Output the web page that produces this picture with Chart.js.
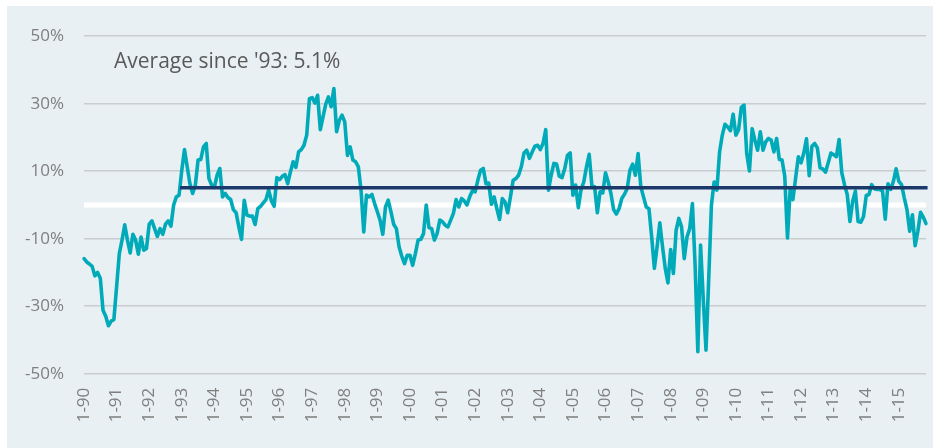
<!DOCTYPE html>
<html>
<head>
<meta charset="utf-8">
<script src="https://cdn.jsdelivr.net/npm/chart.js@4.4.1/dist/chart.umd.min.js"></script>
<style>
  body { margin: 0; background: #ffffff; }
  #panel { position: absolute; left: 7px; top: 6px; width: 926px; height: 442px; background: #e8f0f3; }
</style>
</head>
<body>
<div id="panel"><canvas id="grafico" width="926" height="442"></canvas></div>
<script>
// year-on-year change, monthly, Jan 1990 - Nov 2015 (%)
const yoy = [
  -15.9, -16.9, -17.5, -18.2, -21, -20, -21.7, -31.2, -33, -35.8, -34.4, -34,
  -24.3, -14.4, -10.4, -5.9, -10.4, -14.2, -8.7, -10.4, -14.6, -9.5, -13.4, -12.9,
  -5.7, -4.7, -7, -9.3, -7, -8.7, -5.7, -4.7, -6.3, 0, 2.4, 2.9,
  10.3, 16.4, 11.3, 6.3, 3.4, 5.9, 13.3, 13.5, 17.2, 18.2, 7.8, 5.9,
  5.2, 8.8, 10.8, 2.4, 3.4, 2.2, 1.6, -1.4, -2.3, -6.5, -10.2, 1.4,
  -3, -3.3, -3.3, -5.8, -1.1, -0.4, 0.6, 1.6, 4.4, 1.2, -0.4, 8.1,
  7.5, 8.5, 9, 6.3, 9.8, 12.8, 11.1, 15.7, 16.4, 17.7, 20.7, 31.5,
  31.8, 30.2, 32.5, 22.3, 26.1, 29.9, 32, 29.1, 34.5, 21.7, 25.1, 26.6,
  24.6, 14.7, 17.2, 13.3, 12.8, 11.3, 4.4, -8, 2.9, 2.4, 3.1, 0.4,
  -2, -4.5, -8.7, -0.6, 1.4, -2, -5.7, -7, -12.4, -15.2, -17.4, -14.9,
  -14.9, -17.9, -14.4, -10.4, -10.2, -8.5, 0, -6.7, -7, -10.4, -8.5, -4.5,
  -5, -6, -6.5, -4.5, -2.5, 1.6, -0.6, 1.9, 1.2, 0, 2.4, 4.2,
  3.9, 7.3, 10.3, 10.8, 6.3, 6.5, 0.2, 2.4, -1.1, -4.3, 1.9, 0.9,
  -2.3, 2.4, 7.3, 7.8, 8.8, 11.3, 15.4, 16.2, 13.8, 15.7, 17.4, 17.7,
  16.4, 18.2, 22.3, 4.4, 8.8, 12.3, 12.1, 8.5, 8.1, 10.8, 14.7, 15.4,
  2.9, 5.9, -0.8, 4.6, 6.8, 11.3, 15, 5.6, 5.4, -2.3, 3.9, 3.6,
  9.5, 6.8, 3.4, -1.4, -2.7, -1.1, 1.9, 3.2, 4.9, 10.3, 12.1, 8.8,
  15.2, 5.4, 2.4, -0.6, -1.1, -9.5, -18.8, -12.4, -5.3, -12.4, -18.8, -23.1,
  -13.2, -20.3, -7.5, -4, -6.5, -15.9, -9.5, -7, 0.4, -18, -43.5, -11.9,
  -28, -43, -22, 0, 6.8, 4.4, 15.7, 20.7, 23.9, 23.1, 22, 26.9,
  20.7, 22.3, 28.9, 29.6, 15.2, 10.1, 22.6, 19.2, 16.2, 21.7, 16.2, 18.7,
  19.7, 19.2, 15.7, 19.7, 13.5, 13.3, 8.5, -9.8, 4.6, 1.6, 8, 14.3,
  12.5, 15.4, 19.6, 8.7, 17.4, 18.2, 16.9, 11, 10.7, 9.7, 12.5, 15.4,
  14.9, 14.3, 19.4, 9.5, 6, 3.1, -4.9, 1.1, 4.1, -4.9, -5.1, -3.4,
  2.8, 3.1, 6, 4.8, 4.6, 4.6, 4.1, -4.2, 6.3, 4.6, 7, 10.7,
  7, 6, 2.1, -1.4, -7.8, -2.9, -12.1, -7.8, -2.2, -3.6, -5.5
];

const firstYear = 1990;
const avgSince93 = 5.1;
const avgFrom = "1-93";
const yTicks = [-50, -30, -10, 10, 30, 50];

// month labels like "1-90", "2-90", ...
let meses = [];
for (let i = 0; i < yoy.length; i++) {
  let yy = String((firstYear + Math.floor(i / 12)) % 100).padStart(2, "0");
  meses.push((i % 12 + 1) + "-" + yy);
}
const inicioMedia = meses.indexOf(avgFrom);
const linhaMedia = meses.map((m, i) => (i >= inicioMedia ? avgSince93 : null));

const fonte = "'Open Sans', 'Liberation Sans', sans-serif";

// white line at 0% and the text label
const extras = {
  id: "extras",
  beforeDatasetsDraw(chart) {
    const { ctx, chartArea, scales } = chart;
    const y0 = scales.y.getPixelForValue(0);
    ctx.save();
    ctx.strokeStyle = "#ffffff";
    ctx.lineWidth = 5;
    ctx.beginPath();
    ctx.moveTo(chartArea.left, y0);
    ctx.lineTo(chartArea.right, y0);
    ctx.stroke();
    ctx.restore();
  },
  afterDatasetsDraw(chart) {
    const { ctx, chartArea, scales } = chart;
    ctx.save();
    ctx.fillStyle = "#595959";
    ctx.font = "21px " + fonte;
    ctx.textBaseline = "alphabetic";
    ctx.fillText("Average since '93: " + avgSince93 + "%", chartArea.left + 30, scales.y.getPixelForValue(40.5));
    ctx.restore();
  }
};

const ctx1 = document.getElementById("grafico");

let grafico = new Chart(ctx1, {
  type: "line",
  data: {
    labels: meses,
    datasets: [
      {
        label: "Average since '93",
        data: linhaMedia,
        borderColor: "#1b3a6b",
        borderWidth: 3.5,
        borderCapStyle: "square",
        pointRadius: 0,
        order: 0
      },
      {
        label: "YoY",
        data: yoy,
        borderColor: "#00aab8",
        borderWidth: 3.6,
        borderJoinStyle: "round",
        borderCapStyle: "round",
        pointRadius: 0,
        tension: 0,
        order: 1
      }
    ]
  },
  options: {
    responsive: false,
    animation: false,
    layout: { padding: { top: 30, right: 7, left: 0, bottom: 0 } },
    plugins: {
      legend: { display: false },
      tooltip: { enabled: false }
    },
    scales: {
      x: {
        grid: { display: false },
        border: { display: false },
        ticks: {
          autoSkip: false,
          minRotation: 90,
          maxRotation: 90,
          padding: 6,
          color: "#7f7f7f",
          font: { family: fonte, size: 17 },
          callback: function (v, i) {
            return i % 12 === 0 ? meses[i] : null;
          }
        },
        afterFit: function (s) {
          s.height = 74.3;
          s.paddingLeft = 0;
          s.paddingRight = 0;
        }
      },
      y: {
        min: -50,
        max: 50,
        afterBuildTicks: function (s) {
          s.ticks = yTicks.map((v) => ({ value: v }));
        },
        grid: { color: "#c9cdcf", lineWidth: 1.5, drawTicks: false },
        border: { display: false },
        ticks: {
          padding: 20,
          color: "#7f7f7f",
          font: { family: fonte, size: 17 },
          callback: (v) => v + "%"
        },
        afterFit: function (s) {
          s.width = 77;
        }
      }
    }
  },
  plugins: [extras]
});
</script>
</body>
</html>
